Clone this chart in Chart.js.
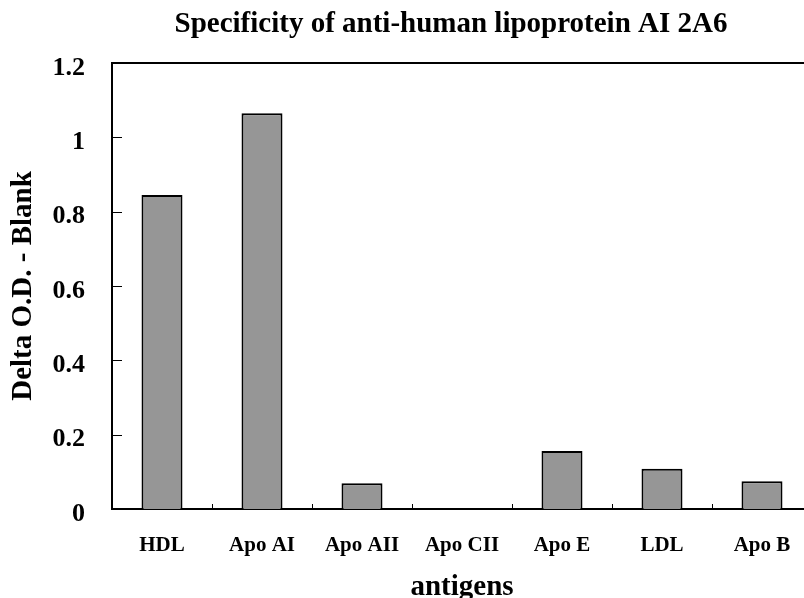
<!DOCTYPE html>
<html>
<head>
<meta charset="utf-8">
<script src="https://cdn.jsdelivr.net/npm/chart.js@4/dist/chart.umd.min.js"></script>
<style>
  html, body { margin: 0; padding: 0; overflow: hidden; background: #fff; }
  #wrap { width: 820px; height: 598px; }
</style>
</head>
<body>
<div id="wrap"><canvas id="antigenChart" width="820" height="598"></canvas></div>
<script>
// Data
const antigens = ['HDL', 'Apo AI', 'Apo AII', 'Apo CII', 'Apo E', 'LDL', 'Apo B'];
const deltaOD = [0.845, 1.065, 0.069, 0, 0.156, 0.108, 0.075];
const yTickLabels = ['0', '0.2', '0.4', '0.6', '0.8', '1', '1.2'];

const serif = "'Liberation Serif', 'Times New Roman', serif";

// title + inward ticks + top frame line
const framePlugin = {
    id: 'frame',
    afterDraw(chart) {
        const ctx = chart.ctx;
        const area = chart.chartArea;
        const x = chart.scales.x;
        const y = chart.scales.y;
        ctx.save();
        ctx.strokeStyle = '#000';
        // top line
        ctx.lineWidth = 2;
        ctx.beginPath();
        ctx.moveTo(area.left - 1, area.top);
        ctx.lineTo(chart.width, area.top);
        ctx.stroke();
        // y ticks
        ctx.lineWidth = 1;
        y.ticks.forEach((t, i) => {
            const py = Math.round(y.getPixelForTick(i)) + 0.5;
            ctx.beginPath();
            ctx.moveTo(area.left, py);
            ctx.lineTo(area.left + 10, py);
            ctx.stroke();
        });
        // x ticks between categories
        for (let i = 1; i < antigens.length; i++) {
            const px = Math.round((x.getPixelForValue(i - 1) + x.getPixelForValue(i)) / 2) + 0.5;
            ctx.beginPath();
            ctx.moveTo(px, area.bottom);
            ctx.lineTo(px, area.bottom - 5);
            ctx.stroke();
        }
        // title
        ctx.fillStyle = '#000';
        ctx.font = 'bold 29px ' + serif;
        ctx.textAlign = 'center';
        ctx.textBaseline = 'alphabetic';
        ctx.fillText('Specificity of anti-human lipoprotein AI 2A6', 451, 32);
        ctx.restore();
    }
};

const ctx = document.getElementById('antigenChart').getContext('2d');
const chart = new Chart(ctx, {
    type: 'bar',
    data: {
        labels: antigens,
        datasets: [{
            label: 'Delta O.D. - Blank',
            data: deltaOD,
            backgroundColor: '#969696',
            borderColor: '#000',
            borderWidth: 2,
            barPercentage: 0.41,
            categoryPercentage: 1
        }]
    },
    options: {
        responsive: false,
        animation: false,
        layout: { padding: { top: 63, right: 8, left: 0, bottom: 0 } },
        plugins: {
            legend: { display: false },
            tooltip: { enabled: false }
        },
        scales: {
            x: {
                grid: { display: false },
                border: { display: true, color: '#000', width: 2 },
                ticks: {
                    color: '#000',
                    padding: 16,
                    font: { family: serif, size: 21, weight: 'bold' }
                },
                title: {
                    display: true,
                    text: 'antigens',
                    color: '#000',
                    padding: 0,
                    font: { family: serif, size: 29, weight: 'bold', lineHeight: 0.69 }
                },
                afterFit(scale) { scale.height = 89; }
            },
            y: {
                min: 0,
                max: 1.2,
                grid: { display: false, drawTicks: false },
                border: { display: true, color: '#000', width: 2 },
                ticks: {
                    stepSize: 0.2,
                    color: '#000',
                    padding: 27,
                    labelOffset: 5,
                    font: { family: serif, size: 26, weight: 'bold' },
                    callback: (v, i) => yTickLabels[i]
                },
                title: {
                    display: true,
                    text: 'Delta O.D. - Blank',
                    color: '#000',
                    padding: { top: 6, bottom: 0 },
                    font: { family: serif, size: 29, weight: 'bold' }
                },
                afterFit(scale) { scale.width = 112; }
            }
        }
    },
    plugins: [framePlugin]
});
</script>
</body>
</html>
